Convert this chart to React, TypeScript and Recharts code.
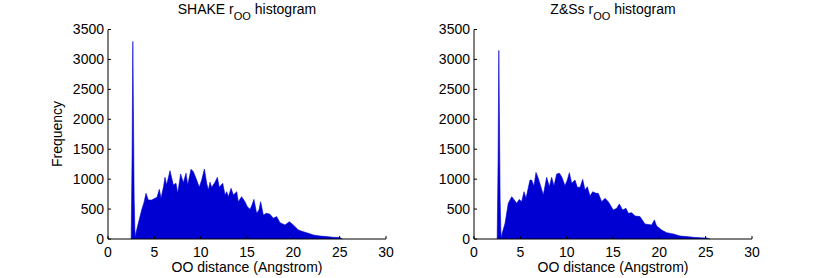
import React from 'react';
import { AreaChart, Area, XAxis, YAxis } from 'recharts';

const xTicks = [0, 5, 10, 15, 20, 25, 30];
const yTicks = [0, 500, 1000, 1500, 2000, 2500, 3000, 3500];

const titles = ['SHAKE r', 'Z&Ss r'];
const titleSub = 'OO';
const titleTail = ' histogram';
const xLabel = 'OO distance (Angstrom)';
const yLabel = 'Frequency';

// SHAKE r_OO histogram (bin centre in Angstrom, count)
const shakeX = [2.5, 2.6, 2.68, 2.74, 2.82, 2.9, 2.98, 3.05, 3.27, 3.63, 3.9, 4.1, 4.35, 4.71, 5.07, 5.3, 5.54, 5.72, 6.0, 6.15, 6.33, 6.69, 7.05, 7.34, 7.52, 7.84, 8.13, 8.42, 8.6, 8.96, 9.21, 9.57, 9.85, 10.11, 10.4, 10.65, 10.83, 11.01, 11.19, 11.55, 11.8, 12.01, 12.38, 12.63, 12.81, 12.99, 13.28, 13.53, 13.89, 14.06, 14.42, 14.78, 15.04, 15.32, 15.5, 15.75, 16.04, 16.29, 16.47, 16.76, 17.11, 17.48, 17.84, 18.2, 18.56, 19.1, 19.57, 20.0, 20.54, 21.08, 21.62, 22.16, 22.88, 23.6, 24.3, 25.0, 25.3];
const shakeY = [0, 1400, 3300, 2200, 700, 150, 20, 120, 262, 484, 620, 763, 651, 651, 679, 700, 830, 680, 880, 1030, 902, 1141, 902, 930, 763, 1086, 940, 1100, 902, 1164, 1125, 985, 863, 985, 1170, 930, 820, 950, 863, 950, 1030, 863, 930, 735, 790, 707, 846, 735, 790, 623, 707, 623, 540, 496, 551, 662, 430, 484, 623, 402, 430, 413, 346, 374, 273, 234, 290, 234, 150, 122, 95, 67, 50, 40, 28, 25, 0];

// Z&Ss r_OO histogram
const zssX = [2.5, 2.6, 2.68, 2.74, 2.82, 2.9, 2.98, 3.05, 3.35, 3.7, 4.07, 4.35, 4.6, 4.89, 5.14, 5.4, 5.61, 6.04, 6.22, 6.47, 6.69, 6.94, 7.19, 7.48, 7.84, 8.13, 8.38, 8.63, 8.92, 9.21, 9.46, 9.82, 10.07, 10.29, 10.54, 10.9, 11.15, 11.44, 11.73, 11.98, 12.23, 12.52, 12.81, 13.17, 13.41, 13.78, 14.14, 14.49, 15.03, 15.4, 15.68, 16.04, 16.4, 16.65, 17.02, 17.38, 17.91, 18.45, 19.17, 19.46, 19.71, 20.25, 20.79, 21.51, 22.23, 22.95, 23.67, 24.39, 25.11, 25.47];
const zssY = [0, 1300, 3150, 2100, 650, 120, 15, 100, 262, 596, 707, 651, 596, 662, 623, 790, 679, 985, 985, 885, 1113, 1013, 885, 735, 1030, 874, 1030, 885, 1086, 1100, 1041, 890, 985, 1108, 930, 985, 863, 863, 996, 818, 874, 718, 790, 763, 763, 623, 679, 623, 484, 512, 585, 484, 512, 430, 440, 385, 374, 251, 234, 318, 218, 150, 106, 84, 50, 40, 28, 22, 15, 0];

const FONT = '"Liberation Sans", Arial, Helvetica, sans-serif';
const BLUE = '#0000d2';

const toRows = (xs: number[], ys: number[]) => xs.map((x, i) => ({ x, y: ys[i] }));

const CHART_W = 415;
const CHART_H = 278;

function Panel({ rows, plotLeft, offsetLeft }: { rows: { x: number; y: number }[]; plotLeft: number; offsetLeft: number }) {
  const plotW = 278;
  const yAxisW = 50;
  const margin = {
    top: 29.5,
    left: plotLeft - yAxisW,
    right: CHART_W - plotLeft - plotW,
    bottom: CHART_H - 239 - 30,
  };
  const line = { stroke: '#000', strokeWidth: 1 };
  const tickText = { fill: '#000', fontSize: 14, fontFamily: FONT };
  return (
    <div style={{ position: 'absolute', left: offsetLeft, top: 0 }}>
      <AreaChart width={CHART_W} height={CHART_H} data={rows} margin={margin}>
        <XAxis
          xAxisId="b"
          dataKey="x"
          type="number"
          domain={[0, 30]}
          ticks={xTicks}
          orientation="bottom"
          height={30}
          tickSize={-3}
          tickMargin={11}
          axisLine={line}
          tickLine={line}
          tick={tickText}
          interval={0}
        />
        <XAxis
          xAxisId="t"
          dataKey="x"
          type="number"
          domain={[0, 30]}
          ticks={xTicks}
          orientation="top"
          height={0}
          tickSize={-3}
          axisLine={line}
          tickLine={line}
          tick={false}
          interval={0}
        />
        <YAxis
          yAxisId="l"
          type="number"
          domain={[0, 3500]}
          ticks={yTicks}
          orientation="left"
          width={yAxisW}
          tickSize={-3}
          tickMargin={7}
          axisLine={line}
          tickLine={line}
          tick={tickText}
          interval={0}
        />
        <YAxis
          yAxisId="r"
          type="number"
          domain={[0, 3500]}
          ticks={yTicks}
          orientation="right"
          width={0}
          tickSize={-3}
          axisLine={line}
          tickLine={line}
          tick={false}
          interval={0}
        />
        <Area
          xAxisId="b"
          yAxisId="l"
          dataKey="y"
          type="linear"
          fill={BLUE}
          fillOpacity={1}
          stroke={BLUE}
          strokeWidth={0.6}
          isAnimationActive={false}
          dot={false}
          activeDot={false}
        />
      </AreaChart>
    </div>
  );
}

export default function App() {
  const centers = [247, 613];
  return (
    <div style={{ position: 'absolute', left: 0, top: 0, width: 830, height: 278, background: '#fff', overflow: 'hidden' }}>
      <Panel rows={toRows(shakeX, shakeY)} plotLeft={108} offsetLeft={0} />
      <Panel rows={toRows(zssX, zssY)} plotLeft={59} offsetLeft={415} />
      <svg width={830} height={278} style={{ position: 'absolute', left: 0, top: 0, pointerEvents: 'none' }}>
        {centers.map((cx, i) => (
          <g key={i} fontFamily={FONT} fill="#000">
            <text x={cx} y={14} fontSize={14} textAnchor="middle">
              {titles[i]}
              <tspan dy={6} fontSize={11}>{titleSub}</tspan>
              <tspan dy={-6} fontSize={14}>{titleTail}</tspan>
            </text>
            <text x={cx} y={272} fontSize={14} textAnchor="middle">{xLabel}</text>
          </g>
        ))}
        <text
          x={62}
          y={134}
          fontSize={14}
          fontFamily={FONT}
          fill="#000"
          textAnchor="middle"
          transform="rotate(-90 62 134)"
        >
          {yLabel}
        </text>
      </svg>
    </div>
  );
}
